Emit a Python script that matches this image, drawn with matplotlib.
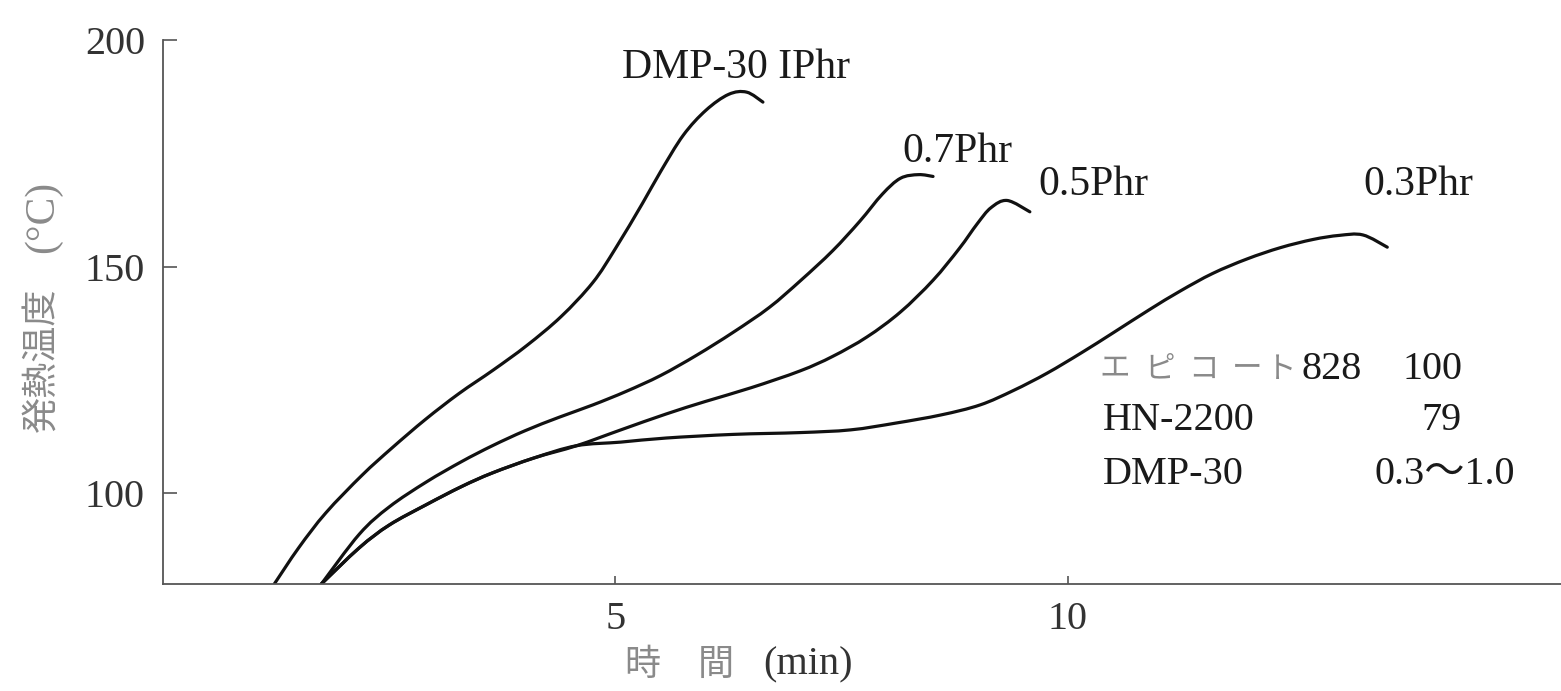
import numpy as np
import matplotlib
matplotlib.use("Agg")
import matplotlib.pyplot as plt
from matplotlib.path import Path
from matplotlib.patches import PathPatch

# Exotherm curves: time (min) vs. temperature (degC)
t_10 = [1.23, 1.50, 1.80, 2.20, 2.53, 2.90, 3.27, 3.65, 4.02, 4.40, 4.75, 5.00, 5.30, 5.50, 5.75, 6.00, 6.25, 6.45, 6.63]
T_10 = [80.0, 88.0, 95.7, 104.0, 110.0, 116.3, 122.0, 127.2, 132.6, 139.0, 146.5, 154.0, 164.0, 171.0, 179.0, 184.5, 188.0, 188.5, 186.3]

t_07 = [1.75, 2.17, 2.50, 2.91, 3.30, 3.64, 4.00, 4.38, 4.75, 5.12, 5.50, 5.90, 6.30, 6.70, 7.05, 7.40, 7.70, 7.95, 8.15, 8.35, 8.51]
T_07 = [80.0, 91.0, 97.0, 102.5, 107.0, 110.5, 113.8, 116.8, 119.5, 122.5, 126.0, 130.5, 135.5, 141.0, 147.0, 153.5, 160.0, 166.0, 169.5, 170.3, 169.9]

t_05 = [1.75, 2.17, 2.50, 2.91, 3.30, 3.64, 4.10, 4.57, 5.06, 5.56, 6.00, 6.50, 7.04, 7.40, 7.78, 8.15, 8.51, 8.80, 9.00, 9.15, 9.33, 9.58]
T_05 = [80.0, 88.0, 93.0, 97.5, 101.5, 104.5, 107.8, 110.5, 114.0, 117.5, 120.3, 123.3, 127.0, 130.2, 134.5, 140.0, 147.0, 154.0, 159.5, 163.0, 164.6, 162.1]

t_03 = [1.75, 2.17, 2.50, 2.91, 3.30, 3.64, 4.10, 4.57, 5.06, 5.56, 6.30, 7.04, 7.60, 8.10, 8.60, 9.03, 9.40, 9.77, 10.15, 10.50, 10.90, 11.24, 11.60, 11.98, 12.35, 12.71, 13.00, 13.26, 13.53]
T_03 = [80.0, 88.0, 93.0, 97.5, 101.5, 104.5, 107.8, 110.5, 111.3, 112.2, 113.0, 113.4, 114.0, 115.5, 117.3, 119.5, 122.7, 126.5, 131.0, 135.4, 140.5, 144.6, 148.5, 151.7, 154.2, 156.0, 156.9, 157.0, 154.3]

curve_labels = ["DMP-30 IPhr", "0.7Phr", "0.5Phr", "0.3Phr"]

x_ticks = [5, 10]
y_ticks = [100, 150, 200]

recipe_names = ["エピコート828", "HN-2200", "DMP-30"]
recipe_parts = ["100", "79", "0.3～1.0"]

W, H = 1561, 691
SERIF = ["Liberation Serif", "DejaVu Serif"]
CJK = ["Noto Sans CJK JP", "DejaVu Sans"]
INK = "#1a1a1a"
GREY = "#8a8a8a"

fig = plt.figure(figsize=(W / 100, H / 100), dpi=100)
ax = fig.add_axes([163 / W, 1 - 584 / H, 1 - 163 / W, (584 - 40) / H])
ax.set_xlim(0, 15.45)
ax.set_ylim(80, 200)


def smooth_path(xs, ys):
    """Catmull-Rom spline through the points, as cubic Bezier segments."""
    p = np.column_stack([xs, ys]).astype(float)
    verts = [p[0]]
    codes = [Path.MOVETO]
    n = len(p)
    for i in range(n - 1):
        p0 = p[i - 1] if i > 0 else p[i]
        p1 = p[i]
        p2 = p[i + 1]
        p3 = p[i + 2] if i + 2 < n else p[i + 1]
        c1 = p1 + (p2 - p0) / 6.0
        c2 = p2 - (p3 - p1) / 6.0
        verts += [c1, c2, p2]
        codes += [Path.CURVE4] * 3
    return Path(verts, codes)


for xs, ys in [(t_10, T_10), (t_07, T_07), (t_05, T_05), (t_03, T_03)]:
    ax.add_patch(PathPatch(smooth_path(xs, ys), facecolor="none",
                           edgecolor="#111111", lw=2.3, capstyle="round",
                           joinstyle="round", transform=ax.transData))

for s in ["top", "right"]:
    ax.spines[s].set_visible(False)
for s in ["left", "bottom"]:
    ax.spines[s].set_color("#555555")
    ax.spines[s].set_linewidth(1.3)

ax.set_xticks(x_ticks)
ax.set_yticks(y_ticks)
ax.set_xticklabels([str(v) for v in x_ticks], family=SERIF, fontsize=29, color="#333333")
ax.set_yticklabels([str(v) for v in y_ticks], family=SERIF, fontsize=29, color="#333333")
ax.tick_params(axis="y", direction="in", length=10, width=1.2, color="#555555", pad=13)
ax.tick_params(axis="x", direction="in", length=6, width=1.2, color="#555555", pad=12)


def ftext(px, py, s, **kw):
    fig.text(px / W, 1 - py / H, s, **kw)


# axis titles
ftext(43, 360, "発熱温度", rotation=90, ha="center", va="center",
      family=CJK, fontsize=26, color=GREY)
ftext(43, 217, "(°C)", rotation=90, ha="center", va="center",
      family=SERIF, fontsize=30, color=GREY)
ftext(642, 665, "時", ha="center", va="center", family=CJK, fontsize=26, color=GREY)
ftext(716, 665, "間", ha="center", va="center", family=CJK, fontsize=26, color=GREY)
ftext(808, 665, "(min)", ha="center", va="center", family=SERIF, fontsize=29, color="#333333")

# curve labels
label_pos = [(622, 68), (902, 152), (1038, 185), (1363, 185)]
for (px, py), s in zip(label_pos, curve_labels):
    ftext(px, py, s, ha="left", va="center", family=SERIF, fontsize=30, color=INK)

# formulation table
row_y = [369, 421, 475]
kana = recipe_names[0][:5]
kana_x = [1115, 1160, 1203, 1247, 1281]
for cx, ch in zip(kana_x, kana):
    ftext(cx, row_y[0], ch, ha="center", va="center", family=CJK,
          fontsize=22, color=GREY)
ftext(1362, row_y[0], recipe_names[0][5:], ha="right", va="center", family=SERIF, fontsize=29, color=INK)
ftext(1103, row_y[1], recipe_names[1], ha="left", va="center", family=SERIF, fontsize=29, color=INK)
ftext(1103, row_y[2], recipe_names[2], ha="left", va="center", family=SERIF, fontsize=29, color=INK)
ftext(1462, row_y[0], recipe_parts[0], ha="right", va="center", family=SERIF, fontsize=29, color=INK)
ftext(1462, row_y[1], recipe_parts[1], ha="right", va="center", family=SERIF, fontsize=29, color=INK)
ftext(1375, row_y[2], recipe_parts[2], ha="left", va="center", family=SERIF + CJK, fontsize=29, color=INK)

fig.savefig("out.png", dpi=100, facecolor="white")
